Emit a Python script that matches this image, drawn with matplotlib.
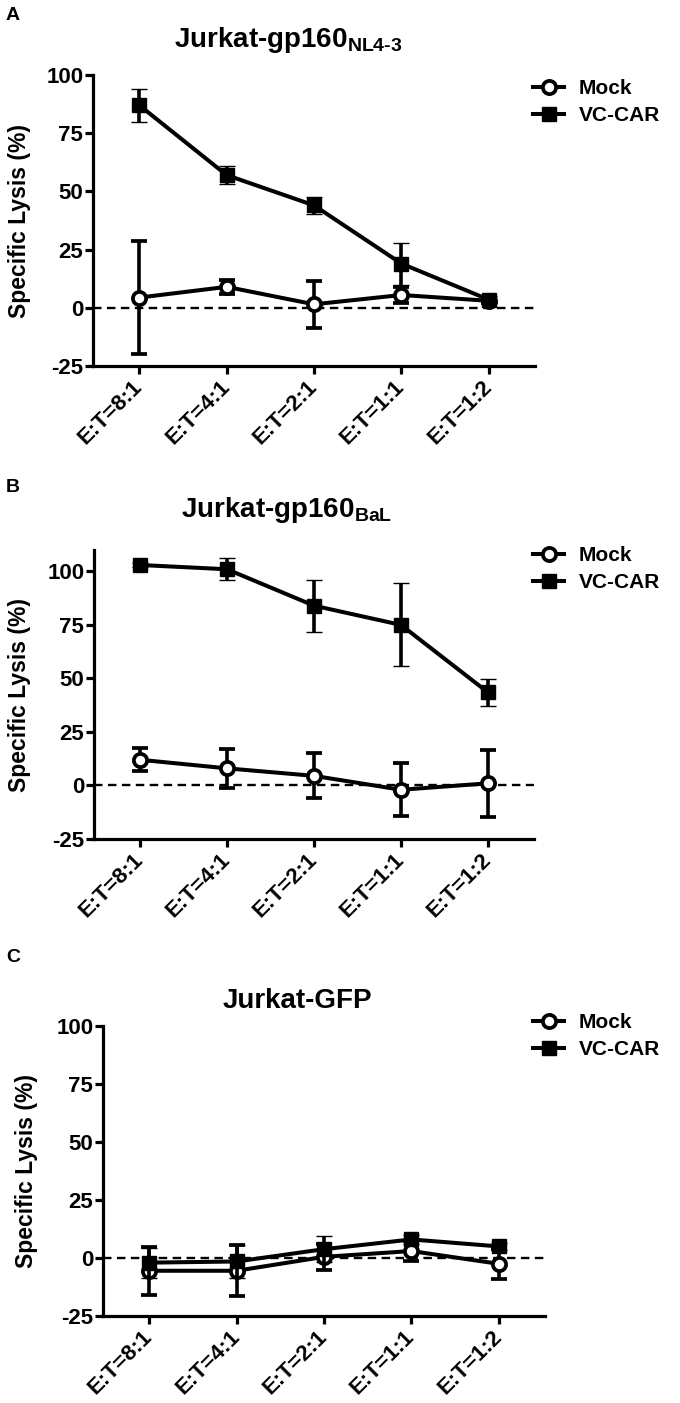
import numpy as np
import matplotlib
matplotlib.use("Agg")
import matplotlib.pyplot as plt
from matplotlib.lines import Line2D

W, H = 680, 1403

plt.rcParams.update({
    "font.family": ["Liberation Sans", "DejaVu Sans"],
    "font.weight": "bold",
    "axes.unicode_minus": False,
    "mathtext.fontset": "custom",
    "mathtext.rm": "Liberation Sans:bold",
    "mathtext.bf": "Liberation Sans:bold",
})

ratios = ["E:T=8:1", "E:T=4:1", "E:T=2:1", "E:T=1:1", "E:T=1:2"]

# panel A: Jurkat-gp160 NL4-3
mock_A = [4.4, 9.0, 1.5, 5.5, 3.0]
mock_A_err = [24.4, 3.0, 10.0, 3.5, 1.0]
car_A = [87.0, 57.0, 44.0, 19.0, 3.5]
car_A_err = [7.2, 3.8, 3.6, 9.0, 1.5]

# panel B: Jurkat-gp160 BaL
mock_B = [12.0, 8.0, 4.5, -2.0, 1.0]
mock_B_err = [5.3, 9.0, 10.5, 12.3, 15.5]
car_B = [103.0, 101.0, 84.0, 75.0, 43.5]
car_B_err = [0.8, 5.2, 12.2, 19.4, 6.3]

# panel C: Jurkat-GFP
mock_C = [-5.5, -5.5, 0.5, 3.0, -2.5]
mock_C_err = [10.4, 11.0, 5.7, 4.5, 6.5]
car_C = [-2.0, -1.5, 3.8, 8.0, 5.0]
car_C_err = [6.5, 7.0, 5.5, 2.0, 1.5]

LW = 2.9


def px(x, y):
    return x / W, 1 - y / H


def panel(rect, mock, mock_err, car, car_err, ylim, yticks, ylab_x):
    l, t, r, b = rect
    ax = fig.add_axes([l / W, 1 - b / H, (r - l) / W, (b - t) / H])
    x = np.arange(len(ratios))
    ax.axhline(0, color="black", lw=1.7, ls=(0, (3.6, 2.3)), zorder=1)
    ax.errorbar(x, mock, yerr=mock_err, color="black", lw=LW, elinewidth=2.6,
                capsize=6, capthick=2.6, marker="o", ms=9.5, mew=2.7,
                mfc="white", mec="black", zorder=3)
    ax.errorbar(x, car, yerr=car_err, color="black", lw=LW, elinewidth=2.6,
                capsize=6, capthick=2.6, marker="s", ms=10.5, mew=1,
                mfc="black", mec="black", zorder=4)
    ax.set_xlim(-0.53, len(ratios) - 0.47)
    ax.set_ylim(*ylim)
    ax.set_yticks(yticks)
    ax.set_yticklabels([str(v) for v in yticks])
    ax.set_xticks(x)
    ax.set_xticklabels(ratios, rotation=45, ha="right", va="center",
                       rotation_mode="anchor")
    for s in ("top", "right"):
        ax.spines[s].set_visible(False)
    for s in ("left", "bottom"):
        ax.spines[s].set_linewidth(2.3)
    ax.tick_params(axis="both", direction="out", length=6, width=2.3,
                   labelsize=16)
    ax.tick_params(axis="y", pad=1)
    ax.tick_params(axis="x", pad=7)
    ax.set_ylabel("Specific Lysis (%)", fontsize=16.5, fontweight="bold")
    ax.yaxis.set_label_coords((ylab_x - l) / (r - l), 0.5)
    return ax


def legend(ax, x, y):
    handles = [
        Line2D([], [], color="black", lw=LW, marker="o", ms=9.5, mew=2.7,
               mfc="white", mec="black"),
        Line2D([], [], color="black", lw=LW, marker="s", ms=10.5, mfc="black",
               mec="black"),
    ]
    ax.legend(handles, ["Mock", "VC-CAR"], loc="upper left",
              bbox_to_anchor=px(x, y), bbox_transform=fig.transFigure,
              frameon=False, fontsize=15, handlelength=1.5,
              handletextpad=0.7, labelspacing=0.4, borderpad=0,
              borderaxespad=0)


fig = plt.figure(figsize=(W / 100, H / 100), dpi=100)

axA = panel((93, 75, 535, 366), mock_A, mock_A_err, car_A, car_A_err,
            (-25, 100), [-25, 0, 25, 50, 75, 100], 31)
axB = panel((94, 550, 534, 839), mock_B, mock_B_err, car_B, car_B_err,
            (-25, 110), [-25, 0, 25, 50, 75, 100], 31)
axC = panel((103, 1026, 545, 1316), mock_C, mock_C_err, car_C, car_C_err,
            (-25, 100), [-25, 0, 25, 50, 75, 100], 38)

legend(axA, 533, 79)
legend(axB, 533, 546)
legend(axC, 533, 1013)

fig.text(*px(288, 47), r"Jurkat-gp160$_{\text{NL4-3}}$", ha="center",
         va="baseline", fontsize=20, fontweight="bold")
fig.text(*px(287, 517), r"Jurkat-gp160$_{\text{BaL}}$", ha="center",
         va="baseline", fontsize=20, fontweight="bold")
fig.text(*px(297, 1008), "Jurkat-GFP", ha="center", va="baseline",
         fontsize=20, fontweight="bold")

for lab, y in (("A", 15), ("B", 488), ("C", 958)):
    fig.text(*px(13, y), lab, ha="center", va="center", fontsize=14,
             fontweight="bold")

fig.savefig("out.png", dpi=100)
